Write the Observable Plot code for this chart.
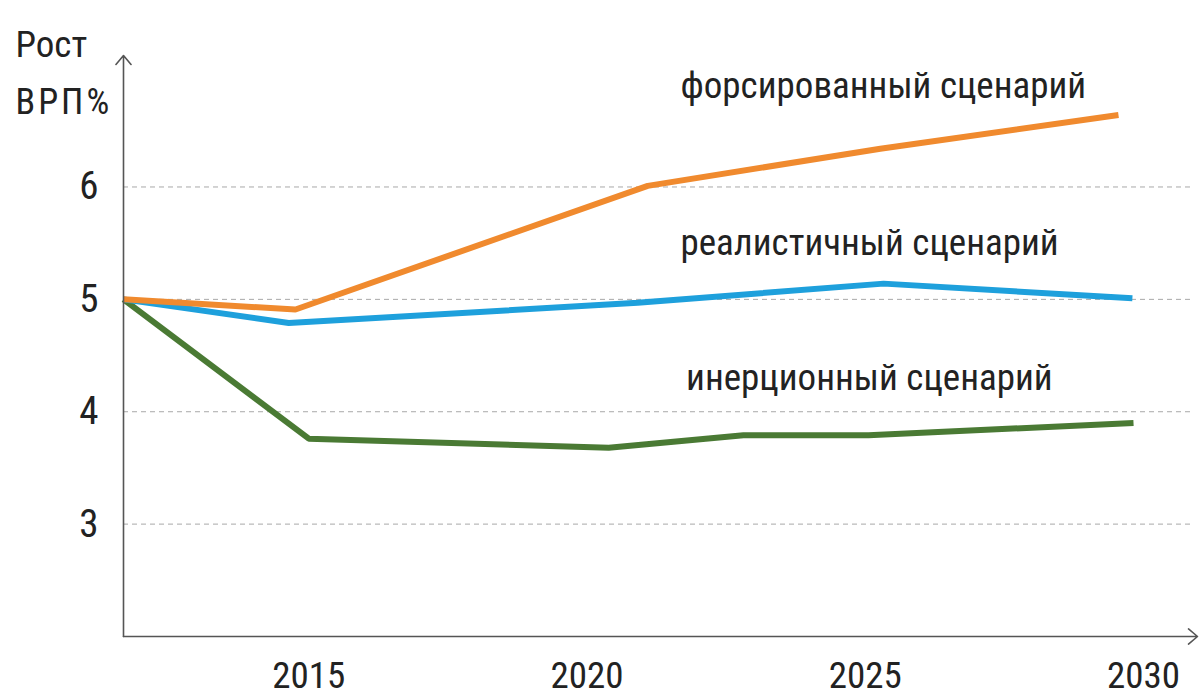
<!DOCTYPE html>
<html>
<head>
<meta charset="utf-8">
<script src="https://cdn.jsdelivr.net/npm/d3@7"></script>
<script src="https://cdn.jsdelivr.net/npm/@observablehq/plot@0.6"></script>
<style>
  html, body { margin: 0; padding: 0; background: #fff; }
  #chart { width: 1201px; height: 700px; }
</style>
</head>
<body>
<div id="chart"></div>
<script>
// ---- data ----
const seriesNames = ["инерционный сценарий", "реалистичный сценарий", "форсированный сценарий"];
const seriesColors = ["#4a7a34", "#1ea0dc", "#f08a2e"];

const inertialYears = [2011.67, 2015.0, 2020.39, 2022.81, 2025.06, 2029.82];
const inertialValues = [5.0, 3.76, 3.68, 3.79, 3.79, 3.90];

const realisticYears = [2011.67, 2014.64, 2020.91, 2025.33, 2029.80];
const realisticValues = [5.0, 4.79, 4.97, 5.14, 5.01];

const forcedYears = [2011.67, 2014.76, 2021.09, 2025.27, 2029.55];
const forcedValues = [5.0, 4.91, 6.01, 6.34, 6.64];

const xTickLabels = [2015, 2020, 2025, 2030];
const yTickLabels = [3, 4, 5, 6];
const titleLines = ["Рост", "ВРП%"];

// ---- build table ----
const rows = [];
[[inertialYears, inertialValues], [realisticYears, realisticValues], [forcedYears, forcedValues]]
  .forEach(([ys, vs], i) => ys.forEach((yr, j) => rows.push({series: seriesNames[i], year: yr, value: vs[j]})));

const xStart = 2011.67, xEnd = 2030.97, gridEnd = 2030.85;
const yMin = 2, yMax = 7.17;
const font = "'Liberation Sans Narrow', 'Roboto Condensed', 'DejaVu Sans Condensed', sans-serif";
const ink = "#222";

// label anchors (annotation, data units)
const labelAnchors = [
  {text: seriesNames[2], x: 2021.68, y: 6.90},
  {text: seriesNames[1], x: 2021.68, y: 5.50},
  {text: seriesNames[0], x: 2021.78, y: 4.30}
];

const chart = Plot.plot({
  width: 1201,
  height: 700,
  marginTop: 55,
  marginBottom: 64,
  marginLeft: 123,
  marginRight: 4,
  style: {fontFamily: font, background: "#fff", color: ink},
  x: {domain: [xStart, xEnd], axis: null},
  y: {domain: [yMin, yMax], axis: null},
  color: {domain: seriesNames, range: seriesColors},
  marks: [
    Plot.ruleY(yTickLabels, {x1: () => xStart, x2: () => gridEnd, stroke: "#a8a8a8", strokeWidth: 1, strokeDasharray: "5,4"}),
    Plot.line(rows, {x: "year", y: "value", z: "series", stroke: "series", strokeWidth: 6, strokeLinejoin: "miter", strokeLinecap: "butt"}),
    Plot.arrow([0], {x1: () => xStart, y1: () => yMin, x2: () => xStart, y2: () => yMax, stroke: "#555", strokeWidth: 1.6, headLength: 11, headAngle: 80}),
    Plot.arrow([0], {x1: () => xStart, y1: () => yMin, x2: () => xEnd, y2: () => yMin, stroke: "#555", strokeWidth: 1.6, headLength: 11, headAngle: 80}),
    Plot.text(yTickLabels, {x: () => xStart, y: d => d, text: d => String(d), textAnchor: "end", dx: -25, fontSize: 39, fill: ink}),
    Plot.text(xTickLabels, {x: d => d, y: () => yMin, text: d => String(d), dy: 40, fontSize: 37, fill: ink}),
    Plot.text(labelAnchors, {x: "x", y: "y", text: "text", textAnchor: "start", fontSize: 37, fill: ink}),
    Plot.text([titleLines[0]], {frameAnchor: "top-left", dx: -108, dy: -25, textAnchor: "start", fontSize: 37, fill: ink}),
    Plot.text([titleLines[1]], {frameAnchor: "top-left", dx: -108, dy: 33, textAnchor: "start", fontSize: 36, fill: ink, className: "title2"})
  ]
});
document.getElementById("chart").appendChild(chart);
d3.select(chart).selectAll(".title2 text").attr("letter-spacing", "3px");
</script>
</body>
</html>
